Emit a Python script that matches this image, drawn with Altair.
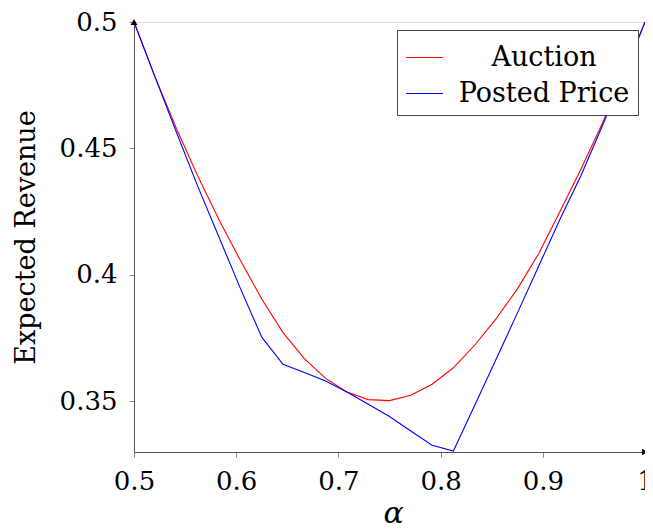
import altair as alt
import pandas as pd

# x grid (alpha) and the two series
alpha = [0.5, 0.5208, 0.5417, 0.5625, 0.5833, 0.6042, 0.625, 0.6458, 0.6667,
         0.6875, 0.7083, 0.7292, 0.75, 0.7708, 0.7917, 0.8125, 0.8333, 0.8542,
         0.875, 0.8958, 0.9167, 0.9375, 0.9583, 0.9792, 1.0]
auction = [0.5, 0.4781, 0.4577, 0.4390, 0.4217, 0.4057, 0.3905, 0.3772, 0.3669,
           0.3591, 0.3537, 0.3507, 0.3503, 0.3524, 0.3568, 0.3633, 0.3722, 0.3826,
           0.3944, 0.4083, 0.4250, 0.4420, 0.4600, 0.4795, 0.5]
posted = [0.5, 0.4780, 0.4562, 0.4349, 0.4148, 0.3946, 0.3754, 0.3647, 0.3614,
          0.3581, 0.3537, 0.3489, 0.3440, 0.3383, 0.3327, 0.3304, 0.3484, 0.3666,
          0.3848, 0.4033, 0.4219, 0.4394, 0.4590, 0.4789, 0.5]

series_names = ["Auction", "Posted Price"]
series_colors = ["#ff0000", "#0000ff"]
x_ticks = [0.5, 0.6, 0.7, 0.8, 0.9, 1.0]
y_ticks = [0.35, 0.4, 0.45, 0.5]
x_domain = [0.5, 1.0]
y_domain = [0.33, 0.5]

FONT = "DejaVu Serif"

df = pd.concat([
    pd.DataFrame({"alpha": alpha, "rev": auction, "series": series_names[0]}),
    pd.DataFrame({"alpha": alpha, "rev": posted, "series": series_names[1]}),
])

xscale = alt.Scale(domain=x_domain, nice=False, zero=False)
yscale = alt.Scale(domain=y_domain, nice=False, zero=False)

xaxis = alt.Axis(values=x_ticks, format="~g", labelFlush=False, grid=False,
                 tickSize=5, labelPadding=11, labelFont=FONT, labelFontSize=26,
                 labelColor="black", domainColor="#555", tickColor="#888",
                 title="α", titleFont=FONT, titleFontSize=30,
                 titleFontStyle="italic", titleFontWeight="normal",
                 titleColor="black", titleX=259, titleY=70,
                 titleBaseline="alphabetic", titleAlign="center")
yaxis = alt.Axis(values=y_ticks, format="~g", labelFlush=False, grid=False,
                 tickSize=5, labelPadding=12, labelFont=FONT, labelFontSize=26,
                 labelColor="black", domainColor="#555", tickColor="#888",
                 title="Expected Revenue", titleFont=FONT, titleFontSize=27,
                 titleFontWeight="normal", titleColor="black", titleAngle=-90,
                 titleX=-100, titleY=215, titleBaseline="alphabetic",
                 titleAlign="center")

lines = alt.Chart(df).mark_line(strokeWidth=1.1).encode(
    x=alt.X("alpha:Q", scale=xscale, axis=xaxis),
    y=alt.Y("rev:Q", scale=yscale, axis=yaxis),
    color=alt.Color("series:N",
                    scale=alt.Scale(domain=series_names, range=series_colors),
                    legend=alt.Legend(title=None, orient="none", legendX=263,
                                      legendY=8, fillColor="white",
                                      strokeColor="#444", padding=8,
                                      symbolType="stroke", symbolSize=1369,
                                      symbolStrokeWidth=1.2, labelFont=FONT,
                                      labelFontSize=27, labelColor="black",
                                      labelAlign="center", labelOffset=100,
                                      rowPadding=3, labelLimit=400)),
    order="alpha:Q",
)

arrow_x = alt.Chart(pd.DataFrame({"a": [x_domain[1]], "r": [y_domain[0]]})).mark_point(
    shape="triangle-right", filled=True, color="black", size=45, opacity=1
).encode(x=alt.X("a:Q", scale=xscale), y=alt.Y("r:Q", scale=yscale))

arrow_y = alt.Chart(pd.DataFrame({"a": [x_domain[0]], "r": [y_domain[1]]})).mark_point(
    shape="triangle-up", filled=True, color="black", size=45, opacity=1
).encode(x=alt.X("a:Q", scale=xscale), y=alt.Y("r:Q", scale=yscale))

chart = alt.layer(lines, arrow_x, arrow_y).properties(
    width=511, height=430,
    autosize=alt.AutoSizeParams(type="none"),
    padding={"left": 126, "top": 14, "right": 0, "bottom": 72},
).configure_view(stroke=None).configure(background="white")

chart.save("out.html", embed_options={"renderer": "svg", "actions": False})
